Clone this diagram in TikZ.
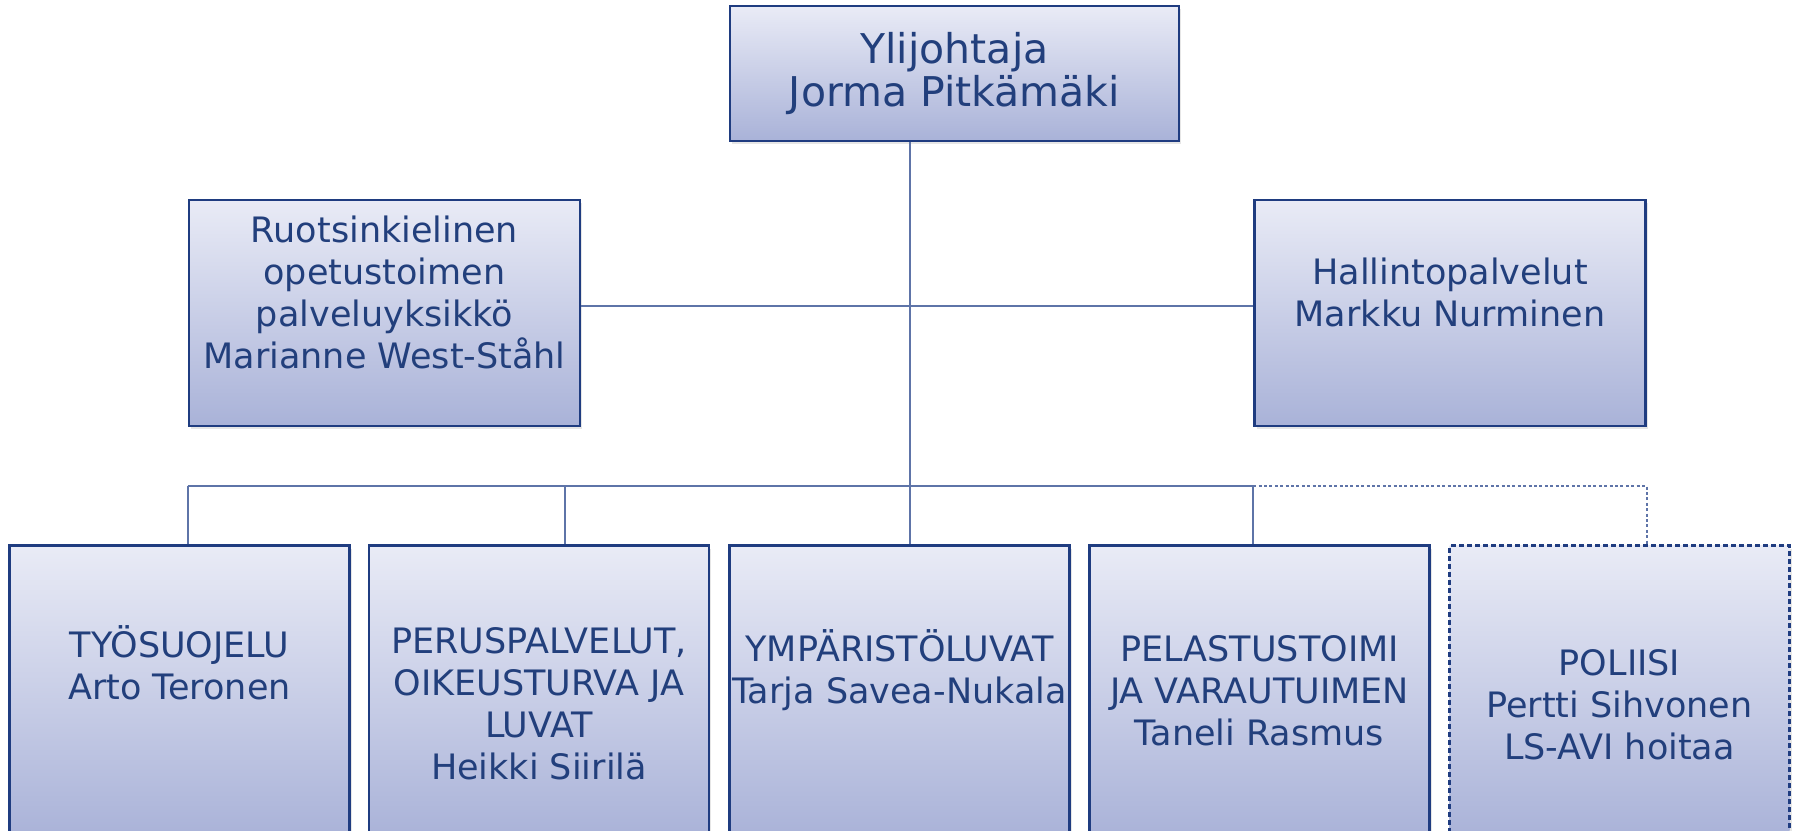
\documentclass[tikz,border=0pt]{standalone}
\usepackage{fontspec}
\setmainfont{DejaVu Sans}
\usetikzlibrary{shadows}
\definecolor{orgblue}{HTML}{1F3C80}
\definecolor{orgtext}{HTML}{223F7C}
\definecolor{orgline}{HTML}{5E74A8}
\definecolor{orgtop}{HTML}{E9EBF6}
\definecolor{orgbottom}{HTML}{A9B2D8}
\begin{document}
\begin{tikzpicture}[x=0.5pt,y=-0.5pt]
  \tikzset{unit/.style={draw=orgblue,line width=1.3pt,top color=orgtop,bottom color=orgbottom,inner sep=0pt,
      drop shadow={shadow xshift=1pt,shadow yshift=-1.5pt,opacity=0.2}},
    sideunit/.style={unit,minimum width=195.5pt,minimum height=113pt},
    lowunit/.style={unit,minimum width=170pt,minimum height=147pt},
    unittext/.style={text=orgtext,align=center,inner sep=0pt,font=\fontsize{17.5}{21}\selectfont},
    wire/.style={draw=orgline,line width=0.8pt},
    dotwire/.style={draw=orgline,line width=0.7pt,dash pattern=on 1.5pt off 1.2pt}}
  \useasboundingbox (0,0) rectangle (1797,830);
  \node[unit,minimum width=224.5pt,minimum height=67.5pt] (ylij) at (954.5,73.5) {};
  \node[unittext,font=\fontsize{20.5}{21.75}\selectfont] (ylij-t) at (954.5,73.3) {Ylijohtaja\\Jorma Pitkämäki};
  \node[sideunit] (ruotsi) at (384.5,313) {};
  \node[unittext] (ruotsi-t) at (384.5,292) {Ruotsinkielinen\\opetustoimen\\palveluyksikkö\\Marianne West-Ståhl};
  \node[sideunit] (hallinto) at (1450,313) {};
  \node[unittext] (hallinto-t) at (1450,292) {Hallintopalvelut\\Markku Nurminen};
  \node[lowunit] (tyo) at (179.5,692.5) {};
  \node[unittext] (tyo-t) at (179.5,663) {TYÖSUOJELU\\Arto Teronen};
  \node[lowunit] (peru) at (539,692.5) {};
  \node[unittext] (peru-t) at (539,704) {PERUSPALVELUT,\\OIKEUSTURVA JA\\LUVAT\\Heikki Siirilä};
  \node[lowunit] (ymp) at (899.5,692.5) {};
  \node[unittext] (ymp-t) at (899.5,670) {YMPÄRISTÖLUVAT\\Tarja Savea-Nukala};
  \node[lowunit] (pela) at (1259.5,692.5) {};
  \node[unittext] (pela-t) at (1259.5,691) {PELASTUSTOIMI\\JA VARAUTUIMEN\\Taneli Rasmus};
  \node[lowunit,dash pattern=on 2.5pt off 1.5pt] (poliisi) at (1619.5,692.5) {};
  \node[unittext] (poliisi-t) at (1619.5,705) {POLIISI\\Pertti Sihvonen\\LS-AVI hoitaa};
  \coordinate (bus) at (910,486);
  \draw[wire] (ylij.south -| bus) -- (ymp.north -| bus);
  \draw[wire] ([yshift=3.5pt]ruotsi.east) -- ([yshift=3.5pt]hallinto.west);
  \draw[wire] (bus -| ruotsi.west) -- (bus -| hallinto.west);
  \draw[wire] (bus -| ruotsi.west) -- (tyo.north -| ruotsi.west);
  \draw[wire] ([xshift=13pt]peru.north) -- ([xshift=13pt]peru.north |- bus);
  \draw[wire] (bus -| hallinto.west) -- (pela.north -| hallinto.west);
  \draw[dotwire] (bus -| hallinto.west) -- (bus -| hallinto.east) -- (poliisi.north -| hallinto.east);
\end{tikzpicture}
\end{document}
